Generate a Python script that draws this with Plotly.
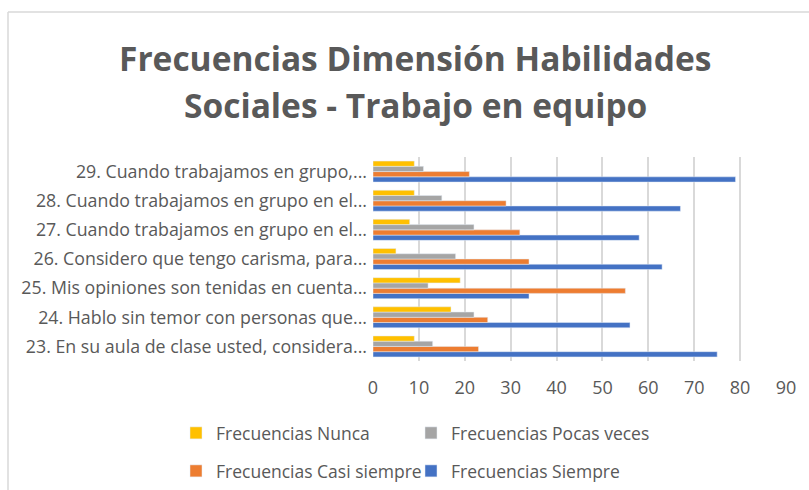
import plotly.graph_objects as go

# Survey items (bottom to top on the category axis)
items = [
    "23. En su aula de clase usted, considera...",
    "24. Hablo sin temor con personas que...",
    "25. Mis opiniones son tenidas en cuenta...",
    "26. Considero que tengo carisma, para...",
    "27. Cuando trabajamos en grupo en el...",
    "28. Cuando trabajamos en grupo en el...",
    "29. Cuando trabajamos en grupo,...",
]

# Response frequencies per item
siempre = [75, 56, 34, 63, 58, 67, 79]
casi_siempre = [23, 25, 55, 34, 32, 29, 21]
pocas_veces = [13, 22, 12, 18, 22, 15, 11]
nunca = [9, 17, 19, 5, 8, 9, 9]

x_ticks = [0, 10, 20, 30, 40, 50, 60, 70, 80, 90]

TEXT = "#595959"
GRID = "#d9d9d9"
FONT = "Open Sans"

W, H = 809, 490
L, R, T, B = 373, 23, 157, 129
pw, ph = W - L - R, H - T - B


def px_x(px):
    return (px - L) / pw


def px_y(py):
    return (H - B - py) / ph


# Series: (name, values, colour, legend id, legend left px, legend row centre px)
# Trace order sets bar order inside each group: first trace sits at the bottom
series = [
    ("Frecuencias Siempre", siempre, "#4472C4", "legend4", 411, 471),
    ("Frecuencias Casi siempre", casi_siempre, "#ED7D31", "legend3", 176, 471),
    ("Frecuencias Pocas veces", pocas_veces, "#A5A5A5", "legend2", 411, 433),
    ("Frecuencias Nunca", nunca, "#FFC000", "legend", 176, 433),
]

fig = go.Figure()
legends = {}
for name, vals, color, leg, lx, ly in series:
    fig.add_trace(go.Bar(y=items, x=vals, orientation="h", name=name,
                         marker_color=color, legend=leg))
    legends[leg] = dict(
        orientation="h", xanchor="left", yanchor="middle", x=px_x(lx), y=px_y(ly),
        font=dict(family=FONT, size=17.5, color=TEXT), bgcolor="rgba(0,0,0,0)",
    )

fig.update_layout(
    width=W, height=H,
    margin=dict(l=L, r=R, t=T, b=B, autoexpand=False),
    paper_bgcolor="white", plot_bgcolor="white",
    barmode="group", bargap=0.28, bargroupgap=0,
    font=dict(family=FONT, color=TEXT),
    xaxis=dict(range=[0, 90], tickvals=x_ticks, showgrid=True, gridcolor=GRID,
               gridwidth=1.5, zeroline=False, showline=False, ticks="",
               ticklabelstandoff=14,
               tickfont=dict(family=FONT, size=18, color=TEXT), fixedrange=True),
    yaxis=dict(categoryorder="array", categoryarray=items, showgrid=False,
               zeroline=False, showline=False, ticks="", ticklabelstandoff=5,
               tickfont=dict(family=FONT, size=17.8, color=TEXT), fixedrange=True),
    annotations=[
        dict(text="<b>Frecuencias Dimensión Habilidades</b>", x=px_x(415), y=px_y(58),
             xref="paper", yref="paper", showarrow=False, xanchor="center", yanchor="middle",
             font=dict(family=FONT, size=33.5, color=TEXT)),
        dict(text="<b>Sociales - Trabajo en equipo</b>", x=px_x(415), y=px_y(105),
             xref="paper", yref="paper", showarrow=False, xanchor="center", yanchor="middle",
             font=dict(family=FONT, size=33.5, color=TEXT)),
    ],
    shapes=[
        dict(type="line", xref="paper", yref="paper", x0=px_x(8), x1=px_x(8),
             y0=px_y(12), y1=px_y(495), line=dict(color=GRID, width=1.5)),
        dict(type="line", xref="paper", yref="paper", x0=px_x(8), x1=px_x(820),
             y0=px_y(12), y1=px_y(12), line=dict(color=GRID, width=1.5)),
    ],
    showlegend=True,
    **legends,
)

fig.write_html("out.html")
